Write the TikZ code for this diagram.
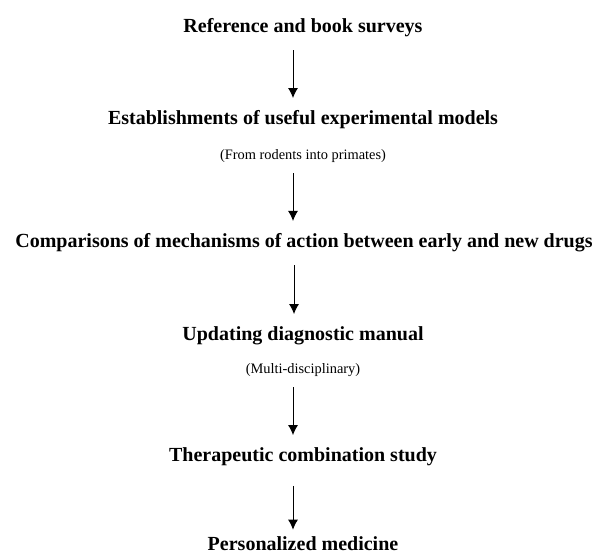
\documentclass[tikz,border=0pt]{standalone}
\usepackage{fontspec}
\setmainfont{Liberation Serif}
\usetikzlibrary{arrows.meta}
\begin{document}
\begin{tikzpicture}
  [x=0.75pt,y=-0.75pt,every node/.style={inner sep=0pt,font=\bfseries\fontsize{15}{18}\selectfont},
   sub/.style={font=\fontsize{10.8}{13}\selectfont},
   flow/.style={-{Latex[length=7.5pt,width=7.5pt]},line width=0.75pt}]
  \useasboundingbox (0,0) rectangle (596,555);
  \node (s1) at (303,27.5)   {Reference and book surveys};
  \node (s2) at (303,119.5)  {Establishments of useful experimental models};
  \node[sub] (s2a) at (303,156.5) {(From rodents into primates)};
  \node (s3) at (304,242.5)  {Comparisons of mechanisms of action between early and new drugs};
  \node (s4) at (303,335.5)  {Updating diagnostic manual};
  \node[sub] (s4a) at (303,370.5) {(Multi-disciplinary)};
  \node (s5) at (303,456.5)  {Therapeutic combination study};
  \node[anchor=base] (s6) at (303,550.5)  {Personalized medicine};

  \foreach \from/\to/\gap/\end in {s1/s2/10pt/9pt,s2a/s3/7.5pt/9pt,s3/s4/10pt/9pt,s4a/s5/7.5pt/9pt,s5/s6/15pt/5pt}
    \draw[flow,shorten <=\gap,shorten >=\end] ([xshift=-7.5pt]\from.south) -- ([xshift=-7.5pt]\from.south |- \to.north);
\end{tikzpicture}
\end{document}
